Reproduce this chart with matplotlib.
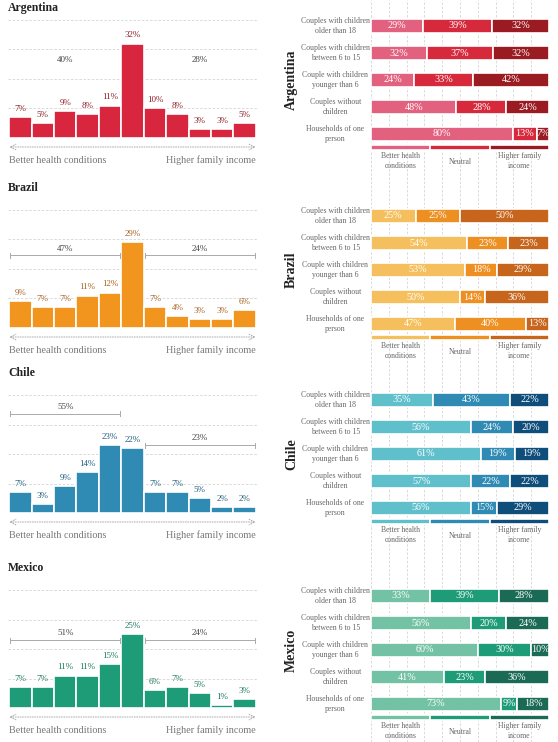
import matplotlib.pyplot as plt
import matplotlib.transforms as mtransforms
import numpy as np

plt.rcParams['font.family'] = ['Liberation Serif', 'DejaVu Serif']

W, H = 558, 742

countries = ['Argentina', 'Brazil', 'Chile', 'Mexico']

# histogram of preferences (11 steps, health -> income)
hist_argentina = [7, 5, 9, 8, 11, 32, 10, 8, 3, 3, 5]
hist_brazil = [9, 7, 7, 11, 12, 29, 7, 4, 3, 3, 6]
hist_chile = [7, 3, 9, 14, 23, 22, 7, 7, 5, 2, 2]
hist_mexico = [7, 7, 11, 11, 15, 25, 6, 7, 5, 1, 3]

# bracket totals (left group, right group)
totals_argentina = [40, 28]
totals_brazil = [47, 24]
totals_chile = [55, 23]
totals_mexico = [51, 24]

household_types = ['Couples with children\nolder than 18',
                   'Couples with children\nbetween 6 to 15',
                   'Couple with children\nyounger than 6',
                   'Couples without\nchildren',
                   'Households of one\nperson']
legend_labels = ['Better health\nconditions', 'Neutral', 'Higher family\nincome']

# shares per household type: better health / neutral / higher income
split_argentina = [[29, 39, 32], [32, 37, 32], [24, 33, 42], [48, 28, 24], [80, 13, 7]]
split_brazil = [[25, 25, 50], [54, 23, 23], [53, 18, 29], [50, 14, 36], [47, 40, 13]]
split_chile = [[35, 43, 22], [56, 24, 20], [61, 19, 19], [57, 22, 22], [56, 15, 29]]
split_mexico = [[33, 39, 28], [56, 20, 24], [60, 30, 10], [41, 23, 36], [73, 9, 18]]

hists = [hist_argentina, hist_brazil, hist_chile, hist_mexico]
totals = [totals_argentina, totals_brazil, totals_chile, totals_mexico]
splits = [split_argentina, split_brazil, split_chile, split_mexico]

bar_colors = ['#d7263d', '#f2951f', '#2f8bb3', '#1e9c77']
label_colors = ['#8e1f24', '#a8621f', '#1f5d7d', '#1b7a5f']
split_colors = [['#e2617f', '#d62a3c', '#9a1b22'],
                ['#f5bf5d', '#ee8f22', '#c6651b'],
                ['#5fbfcb', '#2f8bb3', '#0f4e7a'],
                ['#74c2a5', '#1e9c77', '#1b6a55']]

# pixel layout
hist_bottoms = [138, 328, 513, 708]
bracket_levels = [(26.5, 26.5), (24.6, 24.6), (33.7, 23), (23, 23)]
row_tops = [26, 216, 400, 596]

fig = plt.figure(figsize=(W / 100, H / 100), dpi=100)


def px_axes(left, top, right, bottom):
    return fig.add_axes([left / W, 1 - bottom / H, (right - left) / W, (bottom - top) / H])


grid_kw = dict(color='#d4d4d4', lw=0.6, linestyle=(0, (3, 2)))

# background gridlines of right column
bg = px_axes(371, 0, 549, H)
bg.set_xlim(0, 100)
bg.set_ylim(0, 1)
bg.axis('off')
for gx in range(0, 101, 10):
    bg.axvline(gx, **grid_kw, zorder=0)

for i, name in enumerate(countries):
    # ---------- left histogram ----------
    b = hist_bottoms[i]
    ax = px_axes(8, b - 44 * 2.95, 257, b)
    ax.set_xlim(-0.55, 10.55)
    ax.set_ylim(0, 44)
    ax.axis('off')
    for gy in [10, 20, 30, 40]:
        ax.axhline(gy, **grid_kw, zorder=0)
    x = np.arange(len(hists[i]))
    ax.bar(x, hists[i], width=1.0, color=bar_colors[i], edgecolor='white', lw=1.2, zorder=2)
    for xi, v in zip(x, hists[i]):
        ax.annotate(f'{v}%', (xi, v), xytext=(0, 3), textcoords='offset points',
                    ha='center', va='bottom', fontsize=6.5, color=label_colors[i])

    # brackets
    left_tot, right_tot = totals[i]
    lv, rv = bracket_levels[i]
    for (x0, x1, lvl, t) in [(-0.45, 4.45, lv, left_tot), (5.55, 10.45, rv, right_tot)]:
        if i == 0:
            ax.text((x0 + x1) / 2, lvl, f'{t}%', ha='center', va='center',
                    fontsize=6.5, color='#444')
            continue
        ax.plot([x0, x1], [lvl, lvl], color='#aaaaaa', lw=0.7)
        ax.plot([x0, x0], [lvl - 0.8, lvl + 0.8], color='#aaaaaa', lw=0.7)
        ax.plot([x1, x1], [lvl - 0.8, lvl + 0.8], color='#aaaaaa', lw=0.7)
        ax.text((x0 + x1) / 2, lvl + 2.3, f'{t}%', ha='center', va='center',
                fontsize=6.5, color='#444')

    below = mtransforms.offset_copy(ax.transAxes, fig=fig, y=-9, units='dots')
    ax.annotate('', xy=(0.995, 0), xytext=(0.005, 0), xycoords=below, textcoords=below,
                arrowprops=dict(arrowstyle='<->', color='#aaaaaa', lw=0.7,
                                linestyle=(0, (1, 1.5)), shrinkA=0, shrinkB=0))
    ax.annotate('Better health conditions', (0, 0), xycoords='axes fraction',
                xytext=(1, -16), textcoords='offset points', ha='left', va='center',
                fontsize=7.3, color='#777')
    ax.annotate('Higher family income', (1, 0), xycoords='axes fraction',
                xytext=(-1, -16), textcoords='offset points', ha='right', va='center',
                fontsize=7.3, color='#777')
    ax.annotate(name, (0, 1), xycoords='axes fraction', xytext=(0, 7 if i else 0.5),
                textcoords='offset points', ha='left', va='center',
                fontsize=8.5, fontweight='bold', color='#222')

    # ---------- right stacked bars ----------
    r0 = row_tops[i]
    rx = px_axes(371, r0 - 13.5, 549, r0 + 4.75 * 27)
    rx.set_xlim(0, 100)
    rx.set_ylim(4.75, -0.5)
    rx.axis('off')
    data = np.array(splits[i], dtype=float)
    shares = data / data.sum(axis=1, keepdims=True) * 100
    lefts = np.zeros(len(household_types))
    for k in range(3):
        rx.barh(np.arange(len(household_types)), shares[:, k], left=lefts, height=0.5,
                color=split_colors[i][k], edgecolor='white', lw=1.2, zorder=2)
        for r in range(len(household_types)):
            rx.text(lefts[r] + shares[r, k] / 2, r, f'{int(data[r, k])}%', ha='center',
                    va='center', fontsize=7.3, color='white', zorder=3)
        lefts = lefts + shares[:, k]
    for r, lab in enumerate(household_types):
        rx.text(-20, r, lab, ha='center', va='center', fontsize=5.6, color='#666',
                linespacing=1.3, clip_on=False)
    # legend strip
    for k in range(3):
        rx.barh(4.5, 100 / 3, left=k * 100 / 3, height=0.16, color=split_colors[i][k],
                edgecolor='white', lw=1.2, zorder=2)
        rx.text(k * 100 / 3 + 100 / 6, 5.0 if k != 1 else 5.05, legend_labels[k],
                ha='center', va='center', fontsize=5.5, color='#666', linespacing=1.3,
                clip_on=False)
    rx.text(-44.5, 2, name, rotation=90, ha='center', va='center', fontsize=10,
            fontweight='bold', color='#222', clip_on=False)

fig.savefig('out.png', dpi=100)
